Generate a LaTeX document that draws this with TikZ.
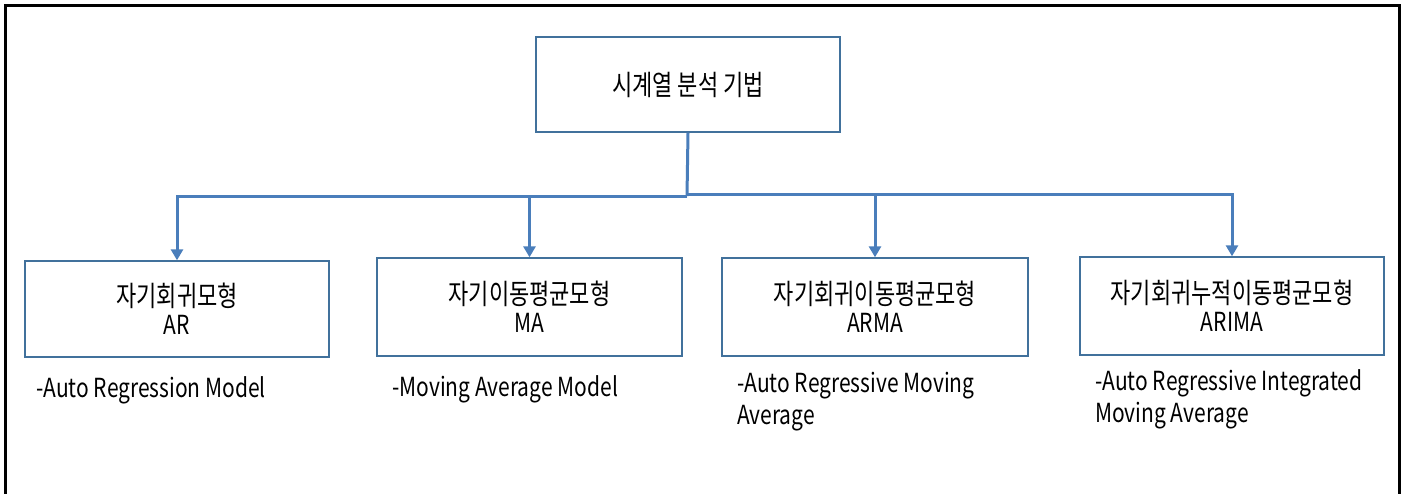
\documentclass[tikz,border=0pt]{standalone}
\usepackage{graphicx}
\usepackage{fontspec}
\usetikzlibrary{arrows.meta}
\setmainfont{Noto Sans CJK KR}
\definecolor{boxblue}{HTML}{41719C}
\definecolor{lineblue}{HTML}{4A7EBB}
\newcommand{\kr}[1]{\scalebox{1}[1.28]{\fontsize{22}{24}\selectfont #1}}
\newcommand{\en}[1]{\scalebox{1}[1.25]{\fontsize{21}{24}\selectfont #1}}
\begin{document}
\begin{tikzpicture}[x=1pt,y=-1pt,
  box/.style={draw=boxblue,line width=1.4pt,fill=white,inner sep=0pt,align=center},
  conn/.style={draw=lineblue,line width=3pt},
  arr/.style={conn,-{Triangle[width=12pt,length=11pt]}},
  desc/.style={anchor=west,inner sep=0pt}]
\useasboundingbox (0,0) rectangle (1404,493);
\fill[white] (0,0) rectangle (1404,493);
\draw[line width=3pt,black] (5,495) -- (5,5) -- (1399.5,5) -- (1399.5,495);

\node[box,minimum width=304pt,minimum height=95pt] (top) at (688,84.5) {\kr{시계열 분석 기법}};

\node[box,minimum width=304pt,minimum height=96pt] (b1) at (177,309) {\kr{자기회귀모형}\\[6pt]\en{AR}};
\node[box,minimum width=305pt,minimum height=98pt] (b2) at (529.5,307) {\kr{자기이동평균모형}\\[6pt]\en{MA}};
\node[box,minimum width=306pt,minimum height=98pt] (b3) at (875,307) {\kr{자기회귀이동평균모형}\\[6pt]\en{ARMA}};
\node[box,minimum width=304pt,minimum height=98pt] (b4) at (1232,306) {\kr{자기회귀누적이동평균모형}\\[6pt]\en{ARIMA}};

\coordinate (busL) at (687,196);
\coordinate (busR) at (687,194);
\draw[conn] (top.south) -- (busL);
\draw[arr] (busL) -| (b1.north);
\draw[arr] (busL) -| (b2.north);
\draw[arr] (busR) -| (b3.north);
\draw[arr] (busR) -| (b4.north);

\node[desc] (d1) at (36,390) {\en{-Auto Regression Model}};
\node[desc] (d2) at (392,389) {\en{-Moving Average Model}};
\node[desc] (d3a) at (737,386) {\en{-Auto Regressive Moving}};
\node[desc] (d3b) at (737,418) {\en{Average}};
\node[desc] (d4a) at (1095,383) {\en{-Auto Regressive Integrated}};
\node[desc] (d4b) at (1095,416) {\en{Moving Average}};
\end{tikzpicture}
\end{document}
